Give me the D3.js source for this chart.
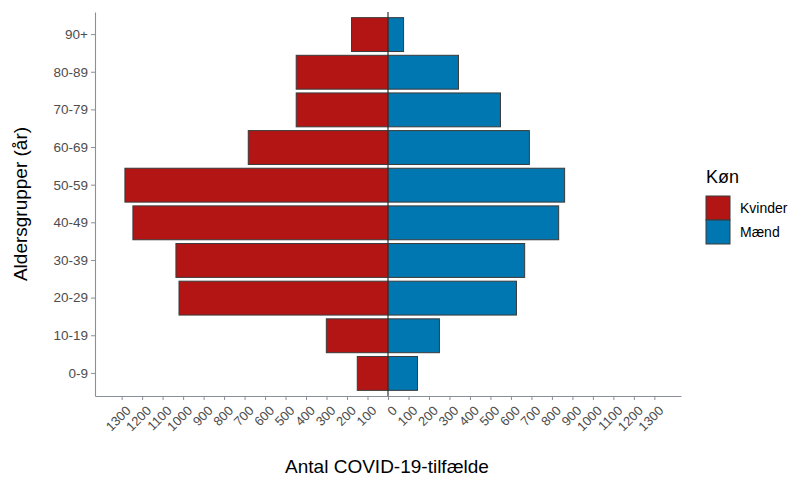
<!DOCTYPE html>
<html>
<head>
<meta charset="utf-8">
<script src="https://cdn.jsdelivr.net/npm/d3@7"></script>
<style>
  body { margin: 0; background: #fff; font-family: "Liberation Sans", Arial, sans-serif; }
</style>
</head>
<body>
<div id="chart"></div>
<script>
// Age groups, top to bottom as drawn
const ageGroups = ['90+', '80-89', '70-79', '60-69', '50-59', '40-49', '30-39', '20-29', '10-19', '0-9'];
const women = [178, 448, 448, 682, 1284, 1245, 1035, 1020, 301, 150];
const men = [76, 344, 549, 690, 862, 833, 667, 627, 251, 144];
const xTicks = [-1300, -1200, -1100, -1000, -900, -800, -700, -600, -500, -400, -300, -200, -100, 0,
  100, 200, 300, 400, 500, 600, 700, 800, 900, 1000, 1100, 1200, 1300];
const seriesNames = ['Kvinder', 'Mænd'];
const seriesColors = ['#b31514', '#0077b0'];

(function() {
  const W = 790, H = 477;
  const margin = { top: 12, right: 109, bottom: 81, left: 95 };
  const width = W - margin.left - margin.right;
  const height = H - margin.top - margin.bottom;

  const svg = d3.select('#chart')
    .append('svg')
    .attr('width', W)
    .attr('height', H);

  const g = svg.append('g')
    .attr('transform', `translate(${margin.left}, ${margin.top})`);

  const x = d3.scaleLinear().domain([-1430, 1430]).range([0, width]);
  const y = d3.scaleBand().domain(ageGroups).range([0, height])
    .paddingInner(0.1).paddingOuter(0.15);
  const color = d3.scaleOrdinal().domain(seriesNames).range(seriesColors);

  // bars: women to the left (negative), men to the right
  const rows = ageGroups.map((a, i) => ({ age: a, women: women[i], men: men[i] }));

  g.selectAll('.bar-w')
    .data(rows)
    .enter()
    .append('rect')
    .attr('class', 'bar-w')
    .attr('x', d => x(-d.women))
    .attr('y', d => y(d.age))
    .attr('width', d => x(0) - x(-d.women))
    .attr('height', y.bandwidth())
    .attr('fill', color('Kvinder'))
    .attr('stroke', '#3a3a3a')
    .attr('stroke-width', 1);

  g.selectAll('.bar-m')
    .data(rows)
    .enter()
    .append('rect')
    .attr('class', 'bar-m')
    .attr('x', x(0))
    .attr('y', d => y(d.age))
    .attr('width', d => x(d.men) - x(0))
    .attr('height', y.bandwidth())
    .attr('fill', color('Mænd'))
    .attr('stroke', '#3a3a3a')
    .attr('stroke-width', 1);

  // zero line
  g.append('line')
    .attr('x1', x(0)).attr('x2', x(0))
    .attr('y1', 0).attr('y2', height)
    .attr('stroke', '#333')
    .attr('stroke-width', 1.2);

  // x axis
  const xAxis = g.append('g')
    .attr('transform', `translate(0, ${height})`)
    .call(d3.axisBottom(x).tickValues(xTicks).tickFormat(d => Math.abs(d))
      .tickSize(4).tickSizeOuter(0));
  xAxis.select('.domain').attr('stroke', '#8a8f99').attr('stroke-width', 1.1);
  xAxis.selectAll('.tick line').attr('stroke', '#8a8f99');
  xAxis.selectAll('text')
    .attr('fill', '#4d4d4d')
    .style('font-size', '13px')
    .style('font-family', '"Liberation Sans", Arial, sans-serif')
    .attr('text-anchor', 'end')
    .attr('dy', '0.7em')
    .attr('transform', 'translate(3,9) rotate(-45)')
    .attr('y', 0).attr('x', 0);

  // y axis
  const yAxis = g.append('g')
    .call(d3.axisLeft(y).tickSize(4).tickSizeOuter(0).tickPadding(3));
  yAxis.select('.domain').attr('stroke', '#8a8f99').attr('stroke-width', 1.1);
  yAxis.selectAll('.tick line').attr('stroke', '#8a8f99');
  yAxis.selectAll('text')
    .attr('fill', '#4d4d4d')
    .style('font-size', '13.5px')
    .style('font-family', '"Liberation Sans", Arial, sans-serif');

  // axis titles
  svg.append('text')
    .attr('x', margin.left + x(0) - 1)
    .attr('y', 473)
    .attr('text-anchor', 'middle')
    .style('font-size', '19px')
    .style('fill', '#000')
    .text('Antal COVID-19-tilfælde');

  svg.append('text')
    .attr('transform', `translate(27, ${margin.top + height / 2}) rotate(-90)`)
    .attr('text-anchor', 'middle')
    .style('font-size', '19px')
    .style('fill', '#000')
    .text('Aldersgrupper (år)');

  // legend
  const legend = svg.append('g').attr('transform', 'translate(706, 183)');
  legend.append('text')
    .attr('x', 0).attr('y', 0)
    .style('font-size', '18px')
    .text('Køn');

  const items = legend.selectAll('.legend-item')
    .data(seriesNames)
    .enter()
    .append('g')
    .attr('class', 'legend-item')
    .attr('transform', (d, i) => `translate(0, ${13 + i * 24})`);

  items.append('rect')
    .attr('width', 24).attr('height', 24)
    .attr('fill', d => color(d))
    .attr('stroke', '#3a3a3a')
    .attr('stroke-width', 1);

  items.append('text')
    .attr('x', 34).attr('y', 17)
    .style('font-size', '14px')
    .style('fill', '#000')
    .text(d => d);
})();
</script>
</body>
</html>
